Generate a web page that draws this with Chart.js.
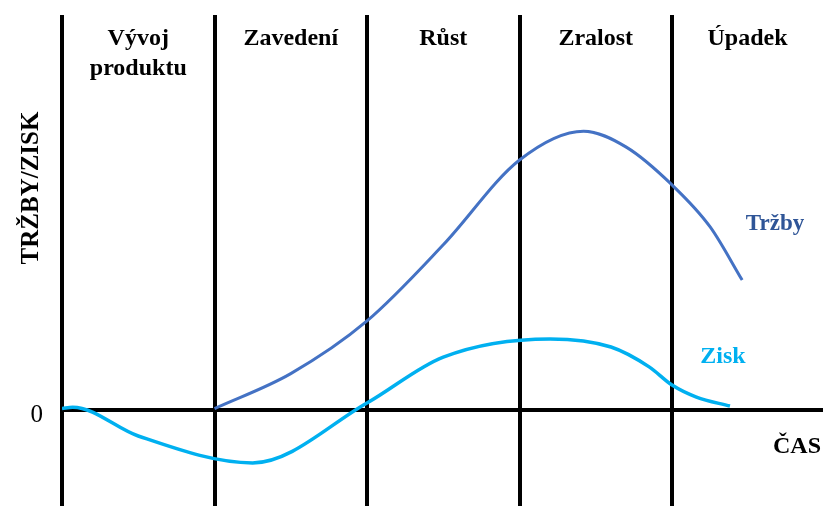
<!DOCTYPE html>
<html lang="cs">
<head>
<meta charset="utf-8">
<title>Životní cyklus produktu</title>
<script src="https://cdn.jsdelivr.net/npm/chart.js@4/dist/chart.umd.min.js"></script>
<style>
  html, body { margin: 0; padding: 0; background: #ffffff; }
  #wrap { width: 823px; height: 506px; }
</style>
</head>
<body>
<div id="wrap"><canvas id="plc" width="823" height="506"></canvas></div>
<script>
// Fáze životního cyklu (každá fáze = 1 jednotka času)
const phaseNames = [["Vývoj", "produktu"], ["Zavedení"], ["Růst"], ["Zralost"], ["Úpadek"]];
const phaseBoundaries = [0, 1, 2, 3, 4];
const timeEnd = 4.99;

// Tržby
const salesTime  = [1.0, 1.5, 2.0, 2.5, 3.0, 3.42, 3.7, 4.0, 4.25, 4.46];
const salesValue = [0.5, 13, 31.8, 59, 89.3, 99.6, 93.9, 80.4, 65.4, 46.4];

// Zisk
const profitTime  = [0.0, 0.07, 0.5, 1.25, 2.0, 2.5, 3.2, 3.6, 3.85, 4.0, 4.16, 4.38];
const profitValue = [0.5, 1.0, -9.3, -18.9, 2.5, 18.9, 25.4, 22.5, 15.4, 8.9, 4.6, 1.4];

const yMin = -34.3, yMax = 141.1;

const toPoints = (xs, ys) => xs.map((x, i) => ({ x: x, y: ys[i] }));

const SERIF = '"Liberation Serif", "Times New Roman", serif';

// Popisky fází, os a řad
const labelsPlugin = {
  id: 'plcLabels',
  afterDraw(chart) {
    const ctx = chart.ctx;
    const xs = chart.scales.x, ys = chart.scales.y;
    const area = chart.chartArea;
    ctx.save();
    ctx.fillStyle = '#000000';
    ctx.textAlign = 'center';
    ctx.textBaseline = 'alphabetic';
    ctx.font = 'bold 24px ' + SERIF;

    // názvy fází
    phaseNames.forEach((lines, i) => {
      const start = phaseBoundaries[i];
      const end = i + 1 < phaseBoundaries.length ? phaseBoundaries[i + 1] : timeEnd;
      const cx = xs.getPixelForValue((start + end) / 2);
      lines.forEach((t, j) => ctx.fillText(t, cx, area.top + 30 + j * 30));
    });

    // popisek osy Y
    ctx.save();
    ctx.translate(38, 188);
    ctx.rotate(-Math.PI / 2);
    ctx.font = 'bold 25px ' + SERIF;
    ctx.fillText('TRŽBY/ZISK', 0, 0);
    ctx.restore();

    // nula na ose Y
    const y0 = ys.getPixelForValue(0);
    ctx.font = '25px ' + SERIF;
    ctx.textAlign = 'right';
    ctx.fillText('0', 43, y0 + 12);

    // popisek osy X
    ctx.font = 'bold 24px ' + SERIF;
    ctx.textAlign = 'center';
    ctx.fillText('ČAS', 797, y0 + 43);

    // názvy řad
    ctx.font = 'bold 23px ' + SERIF;
    ctx.fillStyle = '#2F5597';
    ctx.fillText('Tržby', 775, 230);
    ctx.font = 'bold 24px ' + SERIF;
    ctx.fillStyle = '#00B0F0';
    ctx.fillText('Zisk', 723, 363);
    ctx.restore();
  }
};

new Chart(document.getElementById('plc'), {
  type: 'line',
  data: {
    datasets: [
      {
        label: 'Tržby',
        data: toPoints(salesTime, salesValue),
        borderColor: '#4472C4',
        borderWidth: 3,
        pointRadius: 0,
        cubicInterpolationMode: 'monotone',
        fill: false
      },
      {
        label: 'Zisk',
        data: toPoints(profitTime, profitValue),
        borderColor: '#00B0F0',
        borderWidth: 3.5,
        pointRadius: 0,
        cubicInterpolationMode: 'monotone',
        fill: false
      }
    ]
  },
  options: {
    responsive: false,
    animation: false,
    layout: { padding: { left: 62, top: 15, right: 0, bottom: 0 } },
    plugins: { legend: { display: false }, tooltip: { enabled: false } },
    scales: {
      x: {
        type: 'linear',
        min: 0,
        max: timeEnd,
        z: 1,
        border: { display: false },
        ticks: { display: false },
        grid: { color: '#000000', lineWidth: 4, drawTicks: false },
        afterBuildTicks(scale) { scale.ticks = phaseBoundaries.map(v => ({ value: v })); }
      },
      y: {
        type: 'linear',
        min: yMin,
        max: yMax,
        z: 1,
        border: { display: false },
        ticks: { display: false },
        grid: { color: '#000000', lineWidth: 4, drawTicks: false },
        afterBuildTicks(scale) { scale.ticks = [{ value: 0 }]; }
      }
    }
  },
  plugins: [labelsPlugin]
});
</script>
</body>
</html>
